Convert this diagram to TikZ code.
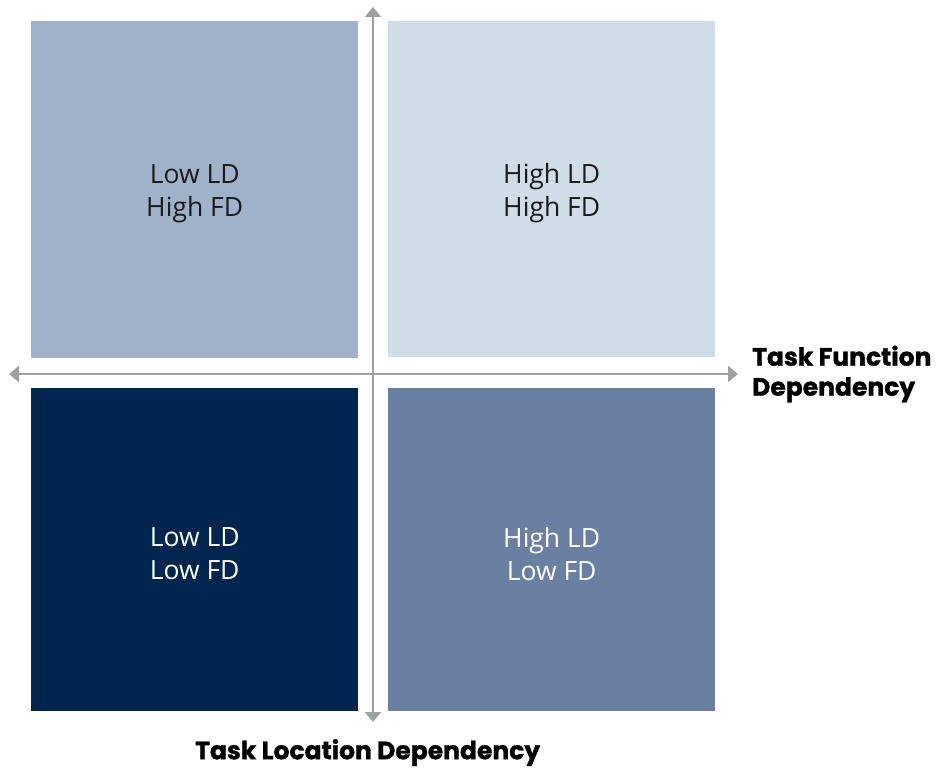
\documentclass[tikz,border=0pt]{standalone}
\usepackage{fontspec}
\setmainfont{Open Sans}
\newfontfamily\labelfont[BoldFeatures={FakeBold=1.2}]{Poppins}
\usetikzlibrary{arrows.meta}
\definecolor{qlight}{HTML}{D0DCE7}
\definecolor{qmid}{HTML}{A0B2CA}
\definecolor{qdark}{HTML}{00264F}
\definecolor{qslate}{HTML}{6A80A2}
\definecolor{axisgray}{HTML}{9EA1A1}
\definecolor{txtdark}{HTML}{1A1A1A}
\tikzset{
  quad/.style={draw=none, minimum width=327pt, minimum height=337pt, inner sep=0pt, anchor=north west},
  quadtext/.style={align=center, inner sep=0pt, font=\fontsize{26.5}{33}\selectfont, yshift=-4pt},
  axisline/.style={draw=axisgray, line width=2.2pt, -{Triangle[width=16pt,length=10pt]}},
  axislabel/.style={font=\labelfont\bfseries\fontsize{25}{30}\selectfont, text=black, inner sep=0pt, align=left},
}
\begin{document}
\begin{tikzpicture}[x=1pt,y=-1pt]
\useasboundingbox (0,0) rectangle (939,770);
\node[quad, fill=qmid] (tl) at (31,21) {};
\node[quad, fill=qlight, minimum height=336pt] (tr) at (388,21) {};
\node[quad, fill=qdark, minimum height=323pt] (bl) at (31,388) {};
\node[quad, fill=qslate, minimum height=323pt] (br) at (388,388) {};
\node[quadtext, text=txtdark] (tlt) at (tl.center) {Low LD\\High FD};
\node[quadtext, text=txtdark] (trt) at (tr.center) {High LD\\High FD};
\node[quadtext, text=white] (blt) at (bl.center) {Low LD\\Low FD};
\node[quadtext, text=white] (brt) at (br.center) {High LD\\Low FD};
\coordinate (vtop) at (373,7);
\coordinate (vbot) at (373,722);
\coordinate (hleft) at (9,374);
\coordinate (hright) at (738,374);
\coordinate (center) at (373,374);
\draw[axisline] (center) -- (vtop);
\draw[axisline] (center) -- (vbot);
\draw[axisline] (center) -- (hleft);
\draw[axisline] (center) -- (hright);
\node[axislabel, anchor=west] (fd) at (752,374) {Task Function\\Dependency};
\node[axislabel, anchor=north west] (ld) at (195,739) {Task Location Dependency};
\end{tikzpicture}
\end{document}
